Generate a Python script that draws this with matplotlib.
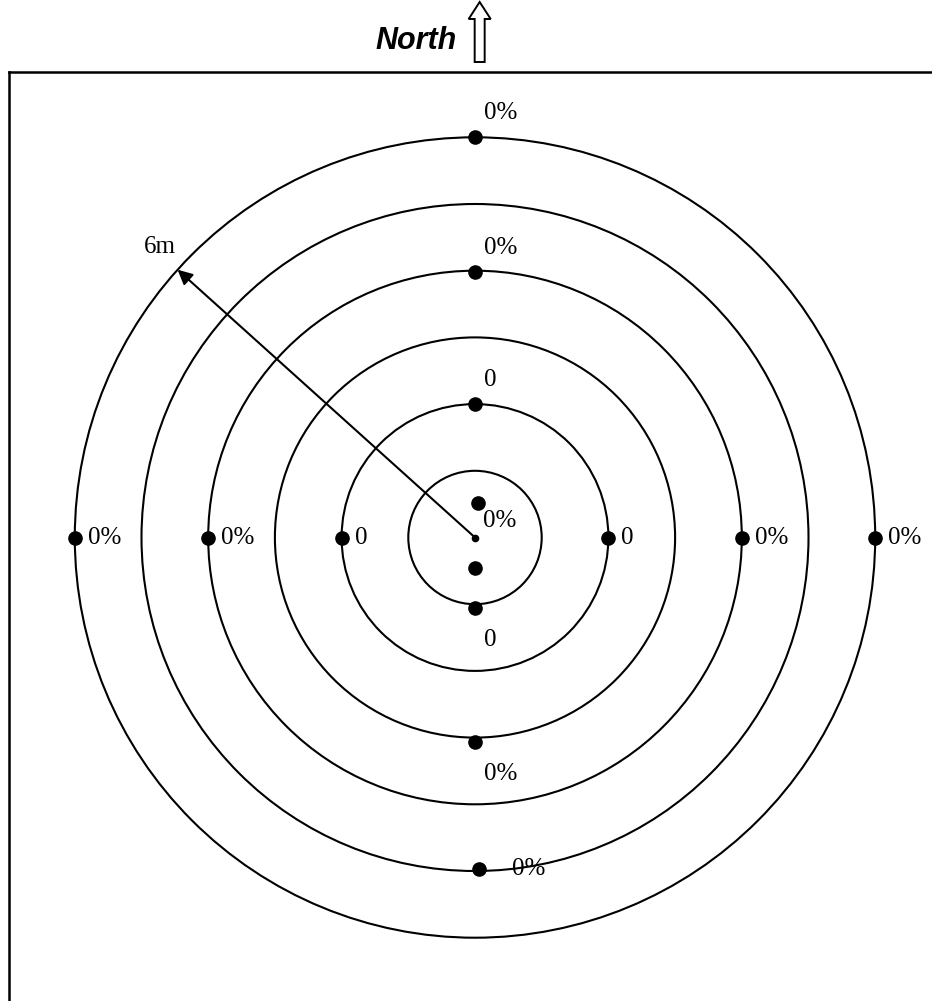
"""
Concentric-ring survey map: readings at each 1 m ring, North up.
"""
import numpy as np
import matplotlib
matplotlib.use("Agg")
import matplotlib.pyplot as plt
from matplotlib.patches import Circle, FancyArrow

# ── data ──
RING_RADII = [1, 2, 3, 4, 5, 6]          # metres
RADIUS_LABEL = "6m"
RADIUS_ANGLE = 138                       # degrees, direction of the radius arrow

PT_X = [0.0, 0.0, 0.0, 0.04, 0.0, 0.0, 0.0, 0.06, -6.0, -4.0, -2.0, 2.0, 4.0, 6.0]
PT_Y = [6.0, 3.98, 2.0, 0.52, -0.45, -1.06, -3.07, -4.97, 0.0, 0.0, 0.0, 0.0, 0.0, 0.0]
PT_LABEL = ["0%", "0%", "0", "0%", "", "0", "0%", "0%", "0%", "0%", "0", "0", "0%", "0%"]
PT_SIDE = ["above", "above", "above", "inner", "none", "below", "below", "far",
           "right", "right", "right", "right", "right", "right"]

# label offsets (pixels) per side
OFFS = {"above": (9, 24), "below": (9, -32), "inner": (5, -18),
        "right": (13, 0), "far": (33, 0), "none": (0, 0)}

PX = 0.72   # points per pixel at dpi 100
SCALE = 66.7  # pixels per metre
CX, CY = 475, 537.5
W, H = 932, 1001
BOX_L, BOX_T = 8.5, 71.5

SERIF = "Liberation Serif"


def main():
    fig = plt.figure(figsize=(W / 100, H / 100), dpi=100)
    ax = fig.add_axes([BOX_L / W, 0, 1 - BOX_L / W, 1 - BOX_T / H])
    ax.set_xlim((BOX_L - CX) / SCALE, (W - CX) / SCALE)
    ax.set_ylim((CY - H) / SCALE, (CY - BOX_T) / SCALE)
    ax.set_aspect("equal")
    ax.set_xticks([]); ax.set_yticks([])
    for s in ("right", "bottom"):
        ax.spines[s].set_visible(False)
    for s in ("left", "top"):
        ax.spines[s].set_linewidth(1.8)

    for r in RING_RADII:
        ax.add_patch(Circle((0, 0), r, fill=False, ec="black", lw=1.5, zorder=2))

    # centre point
    ax.plot([0], [0], "o", color="black", ms=4.5, zorder=4)

    # radius arrow
    a = np.deg2rad(RADIUS_ANGLE)
    rmax = max(RING_RADII)
    tip = (rmax * np.cos(a), rmax * np.sin(a))
    ax.annotate("", xy=tip, xytext=(0, 0),
                arrowprops=dict(arrowstyle="-|>", mutation_scale=22, lw=1.5, color="black",
                                shrinkA=0, shrinkB=0), zorder=3)
    ax.annotate(RADIUS_LABEL, xy=tip, xytext=(-2 * PX, 12 * PX), textcoords="offset points",
                ha="right", va="bottom", fontsize=18, family=SERIF)

    # readings
    ax.plot(PT_X, PT_Y, "o", color="black", ms=9.5, zorder=5, clip_on=False)
    for x, y, lab, side in zip(PT_X, PT_Y, PT_LABEL, PT_SIDE):
        if not lab:
            continue
        dx, dy = OFFS[side]
        ax.annotate(lab, xy=(x, y), xytext=(dx * PX, dy * PX), textcoords="offset points",
                    ha="left", va="center", fontsize=18, family=SERIF, zorder=6)

    # North indicator
    ytop = (CY - 2) / SCALE
    ybot = (CY - 62) / SCALE
    ax.add_patch(FancyArrow(0.07, ybot, 0, ytop - ybot, width=10 / SCALE, head_width=22 / SCALE,
                            head_length=17 / SCALE, length_includes_head=True,
                            fc="white", ec="black", lw=1.4, clip_on=False))
    ax.text((457 - CX) / SCALE, (CY - 41) / SCALE, "North", ha="right", va="center",
            fontsize=22, family="Liberation Sans", weight="bold", style="italic", clip_on=False)

    fig.savefig("out.png", dpi=100)


if __name__ == "__main__":
    main()
